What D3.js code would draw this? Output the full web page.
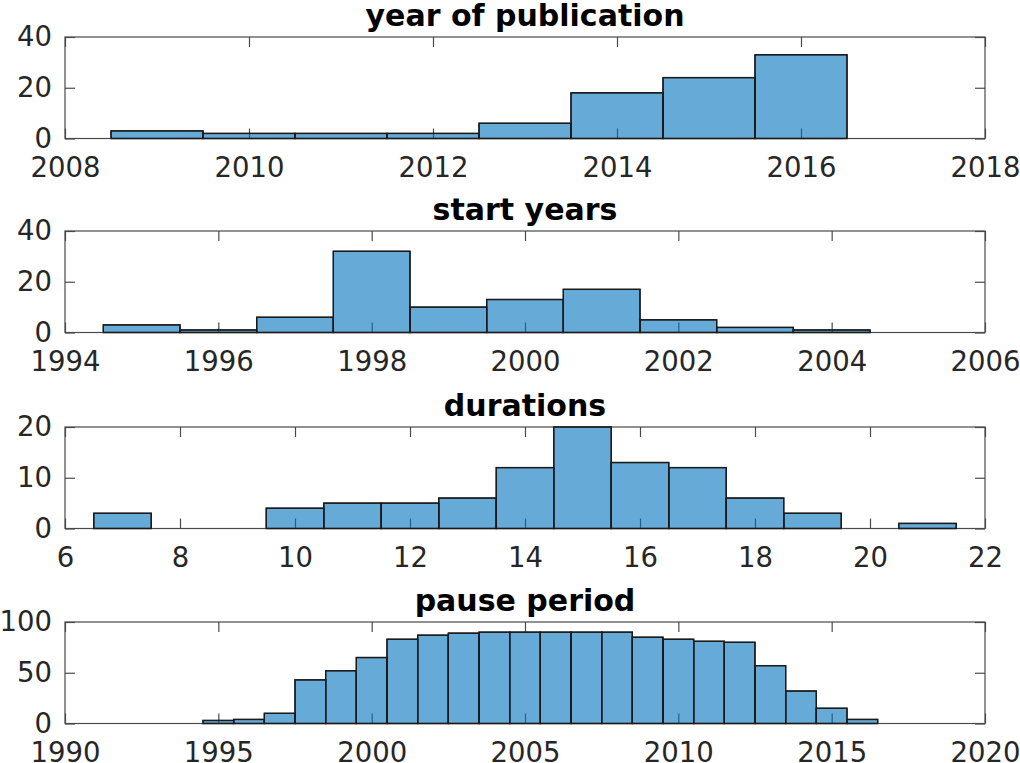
<!DOCTYPE html>
<html>
<head>
<meta charset="utf-8">
<script src="https://cdn.jsdelivr.net/npm/d3@7"></script>
<style>
  body { margin: 0; background: #fff; }
  svg { display: block; }
  .tick text { font-family: "DejaVu Sans", sans-serif; fill: #262626; }
  .title { font-family: "DejaVu Sans", sans-serif; font-weight: bold; fill: #000; }
</style>
</head>
<body>
<div id="container"></div>
<script>
// histogram data: bin centers (bins are 1 wide) and counts
var pubYears = [2009, 2010, 2011, 2012, 2013, 2014, 2015, 2016];
var pubCounts = [3, 2, 2, 2, 6, 18, 24, 33];

var startYears = [1995, 1996, 1997, 1998, 1999, 2000, 2001, 2002, 2003, 2004];
var startCounts = [3, 1, 6, 32, 10, 13, 17, 5, 2, 1];

var durations = [7, 8, 9, 10, 11, 12, 13, 14, 15, 16, 17, 18, 19, 20, 21];
var durCounts = [3, 0, 0, 4, 5, 5, 6, 12, 20, 13, 12, 6, 3, 0, 1];

var pauseYears = [1995, 1996, 1997, 1998, 1999, 2000, 2001, 2002, 2003, 2004, 2005,
                  2006, 2007, 2008, 2009, 2010, 2011, 2012, 2013, 2014, 2015, 2016];
var pauseCounts = [3, 4, 10, 43, 52, 65, 83, 87, 89, 90, 90,
                   90, 90, 90, 85, 83, 81, 80, 57, 32, 15, 4];

// axis ticks
var pubXTicks = [2008, 2010, 2012, 2014, 2016, 2018];
var startXTicks = [1994, 1996, 1998, 2000, 2002, 2004, 2006];
var durXTicks = [6, 8, 10, 12, 14, 16, 18, 20, 22];
var pauseXTicks = [1990, 1995, 2000, 2005, 2010, 2015, 2020];
var pubYTicks = [0, 20, 40];
var startYTicks = [0, 20, 40];
var durYTicks = [0, 10, 20];
var pauseYTicks = [0, 50, 100];

var titles = ["year of publication", "start years", "durations", "pause period"];

var panels = [
  {title: titles[0], bins: pubYears, counts: pubCounts, xticks: pubXTicks, yticks: pubYTicks, top: 37},
  {title: titles[1], bins: startYears, counts: startCounts, xticks: startXTicks, yticks: startYTicks, top: 231},
  {title: titles[2], bins: durations, counts: durCounts, xticks: durXTicks, yticks: durYTicks, top: 427},
  {title: titles[3], bins: pauseYears, counts: pauseCounts, xticks: pauseXTicks, yticks: pauseYTicks, top: 622}
];

var W = 1020, H = 763;
var left = 65, right = 985;
var plotH = 101.5;
var axisColor = "#4a4a4a";
var barFill = "rgb(0,114,189)";

var svg = d3.select("#container").append("svg")
    .attr("width", W)
    .attr("height", H);

panels.forEach(function(p) {
    var xd = [p.xticks[0], p.xticks[p.xticks.length - 1]];
    var yd = [p.yticks[0], p.yticks[p.yticks.length - 1]];

    var x = d3.scaleLinear().domain(xd).range([left, right]);
    var y = d3.scaleLinear().domain(yd).range([p.top + plotH, p.top]);

    var g = svg.append("g");

    // inward ticks on all four sides
    var xb = g.append("g")
        .attr("transform", "translate(0," + (p.top + plotH) + ")")
        .call(d3.axisBottom(x).tickValues(p.xticks).tickSize(-10).tickPadding(19)
            .tickFormat(d3.format("d")));
    xb.selectAll("text").style("font-size", "27.5px");

    g.append("g")
        .attr("transform", "translate(0," + p.top + ")")
        .call(d3.axisTop(x).tickValues(p.xticks).tickSize(-10).tickFormat(""));

    var yl = g.append("g")
        .attr("transform", "translate(" + left + ",0)")
        .call(d3.axisLeft(y).tickValues(p.yticks).tickSize(-10).tickPadding(13));
    yl.selectAll("text").style("font-size", "27.5px");

    g.append("g")
        .attr("transform", "translate(" + right + ",0)")
        .call(d3.axisRight(y).tickValues(p.yticks).tickSize(-10).tickFormat(""));

    g.selectAll(".domain").remove();
    g.selectAll(".tick line").attr("stroke", axisColor).attr("stroke-width", 1.2);

    // histogram bars
    var data = p.bins.map(function(b, i) { return {x: b, n: p.counts[i]}; });
    g.selectAll("rect.bar")
        .data(data).enter()
        .append("rect")
        .attr("class", "bar")
        .attr("x", function(d) { return x(d.x - 0.5); })
        .attr("width", function(d) { return x(d.x + 0.5) - x(d.x - 0.5); })
        .attr("y", function(d) { return y(d.n); })
        .attr("height", function(d) { return y(0) - y(d.n); })
        .attr("fill", barFill)
        .attr("fill-opacity", 0.6)
        .attr("stroke", "#1a1a1a")
        .attr("stroke-width", 1.3);

    // box
    g.append("rect")
        .attr("x", left)
        .attr("y", p.top)
        .attr("width", right - left)
        .attr("height", plotH)
        .attr("fill", "none")
        .attr("stroke", axisColor)
        .attr("stroke-width", 1.2);

    // redraw bars' outline over box bottom so edges stay dark
    g.selectAll("rect.edge")
        .data(data).enter()
        .append("rect")
        .attr("class", "edge")
        .attr("x", function(d) { return x(d.x - 0.5); })
        .attr("width", function(d) { return x(d.x + 0.5) - x(d.x - 0.5); })
        .attr("y", function(d) { return y(d.n); })
        .attr("height", function(d) { return y(0) - y(d.n); })
        .attr("fill", "none")
        .attr("stroke", "#1a1a1a")
        .attr("stroke-width", 1.3);

    g.append("text")
        .attr("class", "title")
        .attr("x", (left + right) / 2)
        .attr("y", p.top - 11)
        .attr("text-anchor", "middle")
        .style("font-size", "30px")
        .text(p.title);
});
</script>
</body>
</html>
